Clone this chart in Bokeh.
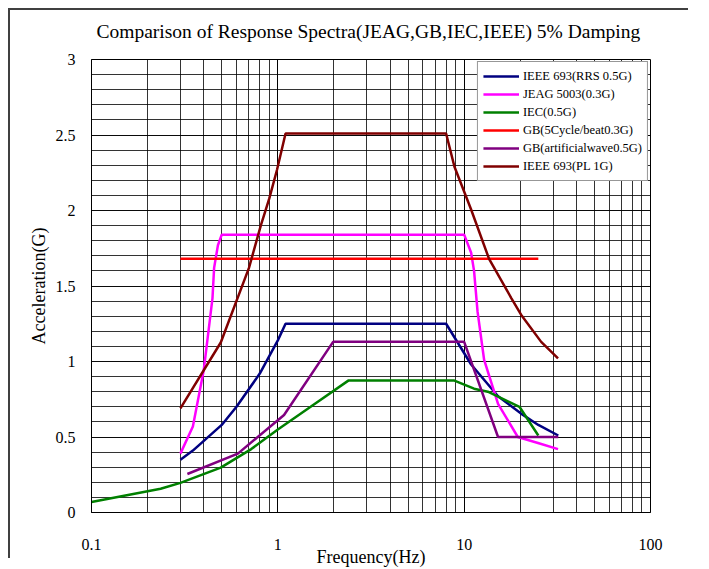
from bokeh.plotting import figure
from bokeh.models import (Range1d, LogTicker, SingleIntervalTicker, CustomJSTickFormatter,
                          Legend, LegendItem, InlineStyleSheet)
from bokeh.embed import file_html
from bokeh.resources import INLINE

FONT = "Liberation Serif"

# ---- data ----
rrs_f = [0.3, 0.35, 0.5, 0.6, 0.8, 1.0, 1.1, 8.0, 10.9, 15.2, 20.2, 25, 32]
rrs_a = [0.35, 0.41, 0.58, 0.70, 0.92, 1.14, 1.25, 1.25, 0.98, 0.77, 0.655, 0.58, 0.51]

jeag_f = [0.3, 0.35, 0.40, 0.446, 0.455, 0.477, 0.5, 10.0, 10.9, 11.3, 11.8, 12.8, 15.2, 19.4, 24.9, 31.9]
jeag_a = [0.39, 0.57, 0.94, 1.42, 1.62, 1.77, 1.84, 1.84, 1.72, 1.60, 1.33, 1.01, 0.72, 0.50, 0.46, 0.42]

iec_f = [0.1, 0.235, 0.3, 0.494, 0.72, 1.0, 1.5, 2.4, 8.8, 11.3, 13.4, 19.8, 25]
iec_a = [0.07, 0.157, 0.196, 0.297, 0.42, 0.55, 0.70, 0.875, 0.875, 0.82, 0.80, 0.70, 0.51]

gb5_f = [0.3, 25]
gb5_a = [1.68, 1.68]

gbart_f = [0.327, 0.61, 1.08, 1.98, 10.0, 15.2, 32]
gbart_a = [0.255, 0.39, 0.646, 1.13, 1.13, 0.50, 0.50]

pl_f = [0.3, 0.494, 0.70, 0.81, 0.90, 0.99, 1.10, 8.0, 8.87, 10.87, 13.6, 17.9, 20.2, 25.9, 31.9]
pl_a = [0.69, 1.126, 1.62, 1.90, 2.08, 2.27, 2.51, 2.51, 2.29, 2.01, 1.68, 1.42, 1.31, 1.13, 1.02]

series = [
    ("IEEE 693(RRS 0.5G)", rrs_f, rrs_a, "#000080"),
    ("JEAG 5003(0.3G)", jeag_f, jeag_a, "#ff00ff"),
    ("IEC(0.5G)", iec_f, iec_a, "#008000"),
    ("GB(5Cycle/beat0.3G)", gb5_f, gb5_a, "#ff0000"),
    ("GB(artificialwave0.5G)", gbart_f, gbart_a, "#800080"),
    ("IEEE 693(PL 1G)", pl_f, pl_a, "#800000"),
]

title_text = "Comparison of Response Spectra(JEAG,GB,IEC,IEEE) 5% Damping"
x_label = "Frequency(Hz)"
y_label = "Acceleration(G)"

W, H = 700, 569
p = figure(width=W, height=H, x_axis_type="log",
           x_range=Range1d(0.1, 100), y_range=Range1d(0, 3),
           output_backend="svg", toolbar_location=None,
           min_border_left=91, min_border_right=W - 650, min_border_top=59,
           min_border_bottom=H - 517)

p.title.text = title_text
p.title.align = "left"
p.title.offset = 5
p.title.text_font = FONT
p.title.text_font_size = "19.5px"
p.title.text_font_style = "normal"
p.title.text_color = "#000000"
p.title.standoff = 36

p.outline_line_color = "#000000"
p.outline_line_width = 1

# axes
p.xaxis.ticker = LogTicker(num_minor_ticks=10)
p.yaxis.ticker = SingleIntervalTicker(interval=0.5, num_minor_ticks=5)
fmt = "return tick.toString();"
p.xaxis.formatter = CustomJSTickFormatter(code=fmt)
p.yaxis.formatter = CustomJSTickFormatter(code=fmt)
for ax in (p.xaxis[0], p.yaxis[0]):
    ax.major_tick_line_color = None
    ax.minor_tick_line_color = None
    ax.axis_line_color = "#000000"
    ax.major_label_text_font = FONT
    ax.major_label_text_font_size = "16px"
    ax.major_label_text_color = "#000000"
    ax.axis_label_text_font = FONT
    ax.axis_label_text_font_size = "18px"
    ax.axis_label_text_font_style = "normal"
    ax.axis_label_text_color = "#000000"
p.xaxis.axis_label = x_label
p.yaxis.axis_label = y_label
p.xaxis.major_label_standoff = 20
p.xaxis.axis_label_standoff = -6
p.yaxis.major_label_standoff = 10
p.yaxis.axis_label_standoff = 4

# grid
for g in (p.xgrid[0], p.ygrid[0]):
    g.grid_line_color = "#000000"
    g.grid_line_alpha = 0.8
    g.grid_line_width = 1
    g.minor_grid_line_color = "#000000"
    g.minor_grid_line_alpha = 0.8
    g.minor_grid_line_width = 1

items = []
for name, fx, ay, col in series:
    r = p.line(fx, ay, line_color=col, line_width=2.5)
    items.append(LegendItem(label=name, renderers=[r]))

legend = Legend(items=items, location="top_right")
legend.margin = 2
legend.padding = 5
legend.spacing = 0
legend.label_height = 18
legend.glyph_height = 18
legend.glyph_width = 36
legend.label_standoff = 4
legend.label_text_font = FONT
legend.label_text_font_size = "12.5px"
legend.label_text_color = "#000000"
legend.border_line_color = "#303030"
legend.border_line_width = 1
legend.background_fill_color = "#ffffff"
legend.background_fill_alpha = 1.0
p.add_layout(legend)

# outer chart frame (only its left and top edges fall inside the window)
frame_css = (
    ":host{overflow:hidden;}"
    ":host::before{content:'';position:absolute;left:8px;top:8px;width:680px;"
    "height:550px;box-sizing:border-box;border-left:2px solid #404040;"
    "border-top:2px solid #404040;z-index:100;pointer-events:none;}"
)
p.stylesheets = [InlineStyleSheet(css=frame_css)]

open("out.html", "w").write(file_html(p, INLINE))
